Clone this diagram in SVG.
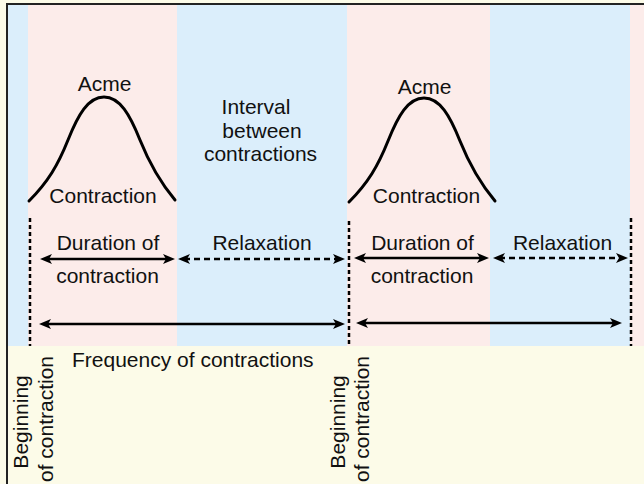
<svg xmlns="http://www.w3.org/2000/svg" width="644" height="484" viewBox="0 0 644 484">
  <style>
    .lbl { font-family: "Liberation Sans", Arial, Helvetica, sans-serif; font-size: 21px; fill: #111; }
    .mid { text-anchor: middle; }
    .curve { fill: none; stroke: #000; stroke-width: 3; stroke-linecap: round; }
    .arrow { fill: none; stroke: #000; stroke-width: 2.5; marker-start: url(#ah); marker-end: url(#ah); }
    .dash { stroke-dasharray: 6 4; }
    .mark { fill: none; stroke: #000; stroke-width: 2.5; stroke-dasharray: 4 3; }
  </style>
  <defs>
    <marker id="ah" viewBox="0 0 12 10" refX="6" refY="5" markerWidth="12" markerHeight="10" markerUnits="userSpaceOnUse" orient="auto-start-reverse">
      <path d="M0,0 L12,5 L0,10 L3,5 z" fill="#000"/>
    </marker>
    <path id="bell" d="M29,201 C48,182 58,165 68,140 C78,115 88,97 104,97 C120,97 130,115 140,140 C150,165 160,182 175,200"/>
  </defs>

  <!-- background bands -->
  <g id="bands">
    <rect x="0" y="0" width="644" height="484" fill="#fcfbe8"/>
    <rect x="8" y="5" width="20" height="341" fill="#dbeefb"/>
    <rect x="28" y="5" width="149" height="341" fill="#fcecea"/>
    <rect x="177" y="5" width="170" height="341" fill="#dbeefb"/>
    <rect x="347" y="5" width="143" height="341" fill="#fcecea"/>
    <rect x="490" y="5" width="140" height="341" fill="#dbeefb"/>
    <rect x="630" y="5" width="14" height="341" fill="#fcecea"/>
    <path d="M7,484 V4 H644" fill="none" stroke="#222" stroke-width="2"/>
  </g>

  <!-- first contraction -->
  <g id="contraction1">
    <use href="#bell" class="curve"/>
    <text class="lbl mid" x="104.5" y="91">Acme</text>
    <text class="lbl mid" x="103" y="203">Contraction</text>
  </g>

  <!-- interval label -->
  <g id="interval">
    <text class="lbl mid" x="256" y="114">Interval</text>
    <text class="lbl mid" x="262" y="137.5">between</text>
    <text class="lbl mid" x="260.5" y="160.5">contractions</text>
  </g>

  <!-- second contraction -->
  <g id="contraction2">
    <use href="#bell" class="curve" transform="translate(320,1)"/>
    <text class="lbl mid" x="424.5" y="94">Acme</text>
    <text class="lbl mid" x="426.5" y="203">Contraction</text>
  </g>

  <!-- phase labels -->
  <g id="duration1">
    <text class="lbl mid" x="108" y="250">Duration of</text>
    <text class="lbl mid" x="107.5" y="283">contraction</text>
  </g>
  <g id="relaxation1">
    <text class="lbl mid" x="262" y="249.5">Relaxation</text>
  </g>
  <g id="duration2">
    <text class="lbl mid" x="422.5" y="250">Duration of</text>
    <text class="lbl mid" x="422" y="283">contraction</text>
  </g>
  <g id="relaxation2">
    <text class="lbl mid" x="562.5" y="249.5">Relaxation</text>
  </g>
  <g id="frequency">
    <text class="lbl" x="72" y="367">Frequency of contractions</text>
  </g>

  <!-- beginning markers -->
  <g id="beginning1">
    <text class="lbl mid" transform="translate(28,419) rotate(-90)">
      <tspan x="0" y="0">Beginning</tspan>
      <tspan x="0" y="25">of contraction</tspan>
    </text>
  </g>
  <g id="beginning2">
    <text class="lbl mid" transform="translate(345,419) rotate(-90)">
      <tspan x="0" y="0">Beginning</tspan>
      <tspan x="0" y="23.5">of contraction</tspan>
    </text>
  </g>

  <!-- connectors -->
  <g id="connectors">
    <line class="mark" x1="30" y1="218" x2="30" y2="346"/>
    <line class="mark" x1="349" y1="221" x2="349" y2="346"/>
    <line class="mark" x1="631" y1="218" x2="631" y2="346"/>

    <line class="arrow" x1="46" y1="259" x2="169" y2="259"/>
    <line class="arrow dash" x1="184" y1="259" x2="339" y2="259"/>
    <line class="arrow" x1="360" y1="258" x2="483" y2="258"/>
    <line class="arrow dash" x1="499" y1="258" x2="622" y2="258"/>

    <line class="arrow" x1="45" y1="324" x2="339" y2="324"/>
    <line class="arrow" x1="362" y1="323" x2="616" y2="323"/>
  </g>
</svg>
